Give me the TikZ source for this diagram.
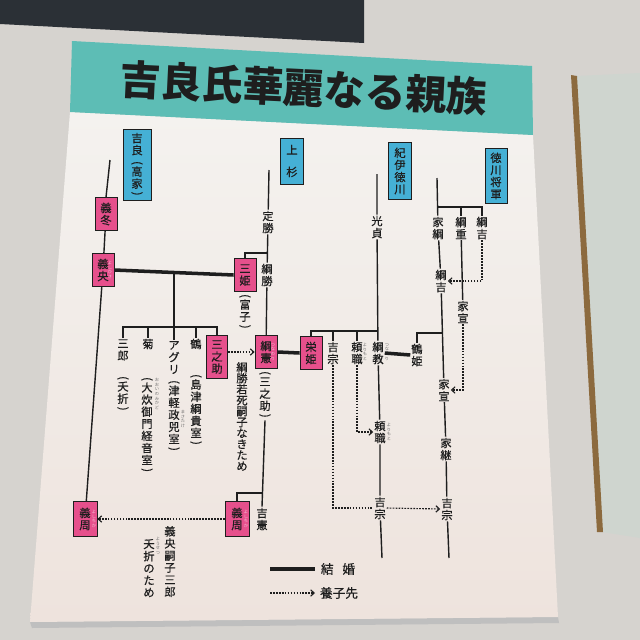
\documentclass[tikz,border=0pt]{standalone}
\usepackage{fontspec}
\usepackage{tikz}
\usetikzlibrary{arrows.meta,positioning,calc}
\newfontfamily\jp{Noto Sans CJK JP}[FakeBold=0.5]
\newfontfamily\jpt{Noto Sans CJK JP}
\definecolor{ink}{HTML}{1E1E1E}
\definecolor{wall}{HTML}{D6D3CF}
\definecolor{sign}{HTML}{2B3036}
\definecolor{board}{HTML}{F4F2EF}
\definecolor{boardlow}{HTML}{EEE3DD}
\definecolor{hdr}{HTML}{5DBDB5}
\definecolor{clanc}{HTML}{45B0D5}
\definecolor{lordc}{HTML}{E6508C}
\definecolor{wood}{HTML}{8C6A3E}
\definecolor{glass}{HTML}{CFD5CF}
\newcommand{\lp}{\rotatebox[origin=c]{-90}{(}\\[-2pt]}
\newcommand{\rp}{\\[-2pt]\rotatebox[origin=c]{-90}{)}}
\tikzset{nm/.style={font=\jp\fontsize{8}{8.6}\selectfont,text=ink,align=center,inner sep=0.6pt},
  clan/.style={nm,draw=ink,fill=clanc,line width=0.5pt,inner sep=0pt},
  lord/.style={nm,draw=ink,fill=lordc,line width=0.5pt,inner sep=0pt,minimum width=0.55cm,minimum height=0.82cm},
  rb/.style={font=\jpt\fontsize{3}{3.3}\selectfont,align=center,inner sep=0pt,text=ink!65},
  rbp/.style={rb,text=lordc!35!white},
  wire/.style={draw=ink,line width=1pt},
  wed/.style={draw=ink,line width=2.5pt},
  dots/.style={draw=ink,line width=0.8pt,dash pattern=on 1.2pt off 0.9pt},
  adopt/.style={dots,-{Straight Barb[length=2.5pt,width=4.5pt]}}}

\begin{document}
\begin{tikzpicture}[x=0.025cm,y=-0.025cm]
\useasboundingbox (0,0) rectangle (640,640);
\fill[wall] (0,0) rectangle (640,640);
\fill[sign] (0,0) -- (364,0) -- (364,43) -- (0,24) -- cycle;
\fill[glass] (576,76) -- (640,73) -- (640,538) -- (602,532) -- cycle;
\fill[wood] (571,75) -- (577,76) -- (603,532) -- (597,532) -- cycle;
% board
\fill[black!25] (30,622) -- (558,617) -- (559,623) -- (32,628) -- cycle;
\shade[top color=board,bottom color=boardlow] (70,112) -- (533,135) -- (558,617) -- (30,622) -- cycle;
\fill[hdr] (72,41) -- (532,66) -- (533,135) -- (70,112) -- cycle;
\node[font=\jpt\bfseries\fontsize{29}{30}\selectfont,text=ink,rotate=-2.8] (title) at (304,88) {吉良氏華麗なる親族};

% clans
\node[clan,font=\jp\fontsize{8}{8.6}\selectfont,minimum width=0.7cm,minimum height=1.78cm] (kira) at (137,165) {吉\\良\\\lp 高\\家\rp};
\node[clan,minimum width=0.575cm,minimum height=1.15cm] (uesugi) at (292,161) {上\\[7pt]杉};
\node[clan,minimum width=0.575cm,minimum height=1.43cm] (kishu) at (400,171) {紀\\伊\\徳\\川};
\node[clan,minimum width=0.55cm,minimum height=1.38cm] (shogun) at (496,176) {徳\\川\\将\\軍};

% Kira
\coordinate (kiraTop) at (110,160);
\node[lord] (yoshifuyu) at (106,214) {義\\冬};
\node[lord] (yoshihisa) at (103,270) {義\\央};
\node[lord,minimum width=0.6cm,minimum height=0.875cm] (yoshichikaL) at (85,519) {義\\周};
\node[rbp] (r1) at (110,270) {よ\\し\\ひ\\さ};
\node[rbp] (r3) at (94,519) {よ\\し\\ち\\か};
\draw[wire] (kiraTop) -- (yoshifuyu.north);
\draw[wire] (yoshifuyu) -- (yoshihisa);
\draw[wire] (yoshihisa) -- (yoshichikaL);

% Uesugi
\coordinate (uesugiTop) at (269,170);
\node[nm] (sadakatsu) at (268,222) {定\\勝};
\node[nm] (tsunakatsu) at (267,275) {綱\\勝};
\node[lord] (sanhime) at (245,275) {三\\姫};
\node[nm,anchor=north] (tomiko) at (245,293) {\lp 富\\子\rp};
\node[lord] (tsunanori) at (266,352) {綱\\憲};
\node[rbp] (r2) at (273,352) {つ\\な\\の\\り};
\node[nm,anchor=north] (sannosukeNote) at (265,370) {\lp 三\\之\\助\rp};
\node[lord,minimum width=0.6cm,minimum height=0.875cm] (yoshichikaR) at (237,519) {義\\周};
\node[rbp] (r4) at (246,519) {よ\\し\\ち\\か};
\node[nm] (yoshinori) at (262,519) {吉\\憲};
\coordinate (hime) at (267,253);
\coordinate (chikaBr) at (263,493);
\draw[wire] (uesugiTop) -- (sadakatsu) -- (tsunakatsu) -- (tsunanori);
\draw[wire] (hime) -| (sanhime.north);
\draw[wire] (sannosukeNote.south) -- (yoshinori.north);
\draw[wire] (chikaBr) -| (yoshichikaR.north);

% children of Yoshihisa
\coordinate (kidsTop) at (174,272);
\coordinate (kidsBar) at (174,327);
\node[nm] (saburo) at (123,350) {三\\郎};
\node[nm,anchor=north] (saburoNote) at (123,375) {\lp 夭\\折\rp};
\node[nm] (kiku) at (148,344) {菊};
\node[nm,anchor=north] (kikuNote) at (147,376) {\lp 大\\炊\\御\\門\\経\\音\\室\rp};
\node[rb] (r9) at (157,394) {お\\お\\い\\の\\み\\か\\ど};
\node[nm,anchor=north] (aguri) at (174,340) {ア\\グ\\リ\\\lp 津\\軽\\政\\兕\\室\rp};
\node[rb] (r8) at (183,419) {ま\\さ\\た\\け};
\node[nm] (tsuru) at (196,344) {鶴};
\node[nm,anchor=north] (tsuruNote) at (196,373) {\lp 島\\津\\綱\\貴\\室\rp};
\node[lord,minimum width=0.53cm,minimum height=1.08cm] (sannosuke) at (217,357) {三\\之\\助};
\node[nm,anchor=north,font=\jp\fontsize{8}{7.8}\selectfont] (noteA) at (242,361) {綱\\勝\\若\\死\\嗣\\子\\な\\き\\た\\め};
\draw[wed] (yoshihisa.east) -- (sanhime.west);
\draw[wire] (kidsTop) -- (kidsBar);
\draw[wire] (saburo.north) |- (kidsBar) -| (sannosuke.north);
\draw[wire] (kiku.north) -- (kiku.north |- kidsBar);
\draw[wire] (tsuru.north) -- (tsuru.north |- kidsBar);
\draw[wire] (aguri.north) -- (kidsBar);
\draw[adopt] (sannosuke.east |- tsunanori.west) -- (tsunanori.west);

\node[nm,anchor=north] (noteB1) at (170,525) {義\\央\\嗣\\子\\三\\郎};
\node[nm,anchor=north] (noteB2) at (149,538) {夭\\折\\の\\た\\め};
\node[rb] (r10) at (158,546) {よ\\う\\せ\\つ};
\draw[adopt] (yoshichikaR.west) -- (yoshichikaL.east);

% Kishu Tokugawa
\coordinate (kishuTop) at (377,174);
\coordinate (kishuBr) at (378,331);
\coordinate (kishuEnd) at (382,558);
\node[nm] (mitsusada) at (377,227) {光\\貞};
\node[lord] (eihime) at (311,353) {栄\\姫};
\node[nm] (yoshimuneK) at (333,353) {吉\\宗};
\node[nm] (yorimotoA) at (357,353) {頼\\職};
\node[rb] (r6) at (365,352) {よ\\り\\も\\と};
\node[nm] (tsunanoriK) at (378,353) {綱\\教};
\node[rb] (r5) at (387,352) {つ\\な\\の\\り};
\node[nm] (yorimotoB) at (380,432) {頼\\職};
\node[rb] (r7) at (389,432) {よ\\り\\も\\と};
\node[nm] (yoshimuneB) at (380,508) {吉\\宗};
\draw[wire] (kishuTop) -- (mitsusada) -- (tsunanoriK) -- (yorimotoB) -- (yoshimuneB) -- (kishuEnd);
\draw[wire] (eihime.north) |- (kishuBr);
\draw[wire] (yoshimuneK.north) -- (yoshimuneK.north |- kishuBr);
\draw[wire] (yorimotoA.north) -- (yorimotoA.north |- kishuBr);
\draw[wed] (tsunanori.east) -- (eihime.west);
\draw[adopt] (yorimotoA.south) |- (yorimotoB.west);
\draw[dots] (yoshimuneK.south) |- (yoshimuneB.west);

% Tokugawa shogun
\coordinate (shogunTop) at (437,178);
\coordinate (shogunBr) at (437,207);
\coordinate (tsuruBr) at (442,333);
\coordinate (shogunEnd) at (449,558);
\node[nm] (ietsuna) at (438,228) {家\\綱};
\node[nm] (tsunashige) at (461,228) {綱\\重};
\node[nm] (tsunayoshiA) at (482,228) {綱\\吉};
\node[nm] (tsunayoshiB) at (441,281) {綱\\吉};
\node[nm] (ienobuA) at (463,312) {家\\宣};
\node[nm] (tsuruhime) at (417,355) {鶴\\姫};
\node[nm] (ienobuB) at (444,390) {家\\宣};
\node[nm] (ietsugu) at (446,449) {家\\継};
\node[nm] (yoshimuneS) at (447,509) {吉\\宗};
\draw[wire] (shogunTop) -- (ietsuna) -- (tsunayoshiB) -- (ienobuB) -- (ietsugu) -- (yoshimuneS) -- (shogunEnd);
\draw[wire] (shogunBr) -| (tsunayoshiA.north);
\draw[wire] (tsunashige.north) -- (tsunashige.north |- shogunBr);
\draw[wire] (tsunashige) -- (ienobuA);
\draw[wire] (tsuruBr) -| (tsuruhime.north);
\draw[wed] (tsunanoriK.east) -- (tsuruhime.west);
\draw[adopt] (tsunayoshiA.south) |- (tsunayoshiB.east);
\draw[adopt] (ienobuA.south) |- (ienobuB.east);
\draw[adopt] (yoshimuneB.east) -- (yoshimuneS.west);

% legend
\coordinate (lgA) at (270,569);
\coordinate (lgB) at (315,569);
\coordinate (lgC) at (270,593);
\coordinate (lgD) at (315,593);
\node[nm,font=\jp\fontsize{9}{9}\selectfont] (lgWed) at (338,569) {結\hspace{0.7em}婚};
\node[nm,font=\jp\fontsize{9}{9}\selectfont] (lgAdopt) at (339,593) {養子先};
\draw[wed] (lgA) -- (lgB);
\draw[adopt] (lgC) -- (lgD);
\end{tikzpicture}
\end{document}
